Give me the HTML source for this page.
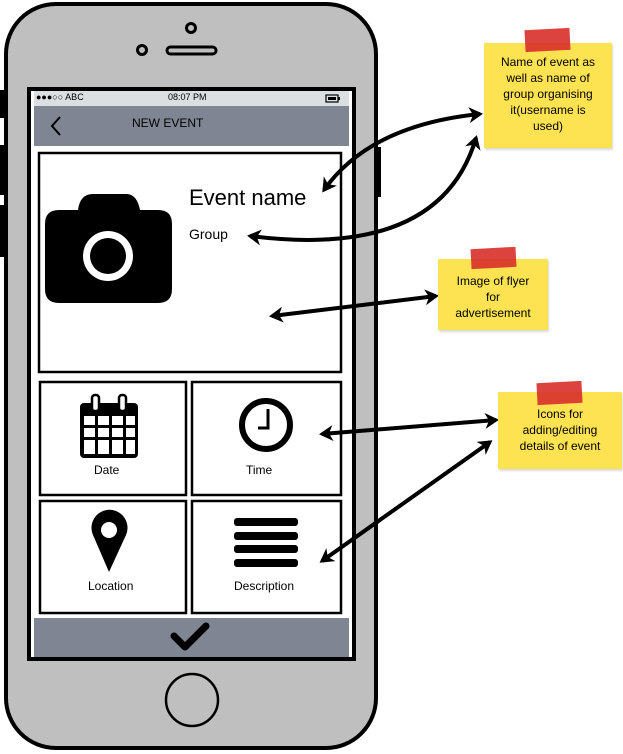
<!DOCTYPE html>
<html><head><style>
html,body{margin:0;padding:0;background:#fff;}
body{width:623px;height:754px;position:relative;overflow:hidden;font-family:"Liberation Sans",sans-serif;}
.t{position:absolute;font-family:"Liberation Sans",sans-serif;color:#000;}
.note{position:absolute;background:#fde352;font-size:12px;text-align:center;line-height:16px;box-shadow:1px 2px 2px rgba(0,0,0,0.15);}
.tape{position:absolute;background:#d9332e;opacity:0.92;}
</style></head><body>
<svg width="623" height="754" style="position:absolute;left:0;top:0">
<defs>
<marker id="a2" markerWidth="16" markerHeight="16" refX="11" refY="8" orient="auto-start-reverse" markerUnits="userSpaceOnUse">
<path d="M0,0 L14,8 L0,16 L4,8 Z" fill="#000"/>
</marker>
</defs>
<rect x="0" y="90" width="9" height="28" fill="#000"/>
<rect x="0" y="145" width="9" height="50" fill="#000"/>
<rect x="0" y="205" width="9" height="52" fill="#000"/>
<rect x="372" y="147" width="9" height="50" fill="#000"/>
<rect x="6" y="4" width="370" height="744" rx="50" ry="50" fill="#bfbfbf" stroke="#000" stroke-width="4"/>
<circle cx="191" cy="28" r="4.5" fill="none" stroke="#000" stroke-width="3"/>
<circle cx="142" cy="50" r="4.5" fill="none" stroke="#000" stroke-width="3"/>
<rect x="167" y="47" width="49" height="7" rx="3.5" fill="none" stroke="#000" stroke-width="3"/>
<rect x="29" y="89" width="325" height="570" fill="#fff" stroke="#000" stroke-width="4"/>
<rect x="34" y="91" width="315" height="15" fill="#dbdfe2"/>
<rect x="34" y="106" width="315" height="40" fill="#7f8593"/>
<rect x="34" y="618" width="315" height="39" fill="#7f8593"/>
<path d="M60,117 L52,126 L60,135" fill="none" stroke="#000" stroke-width="2"/>
<rect x="326" y="95" width="12" height="7" fill="none" stroke="#000" stroke-width="1.2"/>
<rect x="328" y="97" width="8" height="3" fill="#000"/>
<rect x="338" y="97" width="2" height="3" fill="#000"/>
<path d="M174,636 L185,647 L206,626" fill="none" stroke="#000" stroke-width="7" stroke-linecap="round" stroke-linejoin="round"/>
<rect x="39" y="153" width="302" height="219" fill="#fff" stroke="#000" stroke-width="2.5"/>
<path d="M78,210 Q80,194 93,194 L126,194 Q137,194 140,210 L158,210 Q172,210 172,224 L172,289 Q172,303 158,303 L59,303 Q45,303 45,289 L45,224 Q45,210 59,210 Z" fill="#000"/>
<circle cx="108" cy="256" r="25" fill="#fff"/>
<circle cx="108" cy="256" r="18" fill="#000"/>
<rect x="40" y="382" width="146" height="113" fill="#fff" stroke="#000" stroke-width="2.5"/>
<rect x="192" y="382" width="149" height="113" fill="#fff" stroke="#000" stroke-width="2.5"/>
<rect x="40" y="501" width="146" height="112" fill="#fff" stroke="#000" stroke-width="2.5"/>
<rect x="192" y="501" width="149" height="112" fill="#fff" stroke="#000" stroke-width="2.5"/>
<rect x="80" y="403" width="58" height="55" rx="4" fill="#000"/>
<g fill="#fff">
<rect x="84" y="416" width="11" height="9"/><rect x="98" y="416" width="11" height="9"/><rect x="112" y="416" width="11" height="9"/><rect x="126" y="416" width="9" height="9"/>
<rect x="84" y="428" width="11" height="9"/><rect x="98" y="428" width="11" height="9"/><rect x="112" y="428" width="11" height="9"/><rect x="126" y="428" width="9" height="9"/>
<rect x="84" y="440" width="11" height="14"/><rect x="98" y="440" width="11" height="14"/><rect x="112" y="440" width="11" height="14"/><rect x="126" y="440" width="9" height="14"/>
</g>
<rect x="92" y="395" width="7" height="16" rx="3" fill="#fff" stroke="#000" stroke-width="2.5"/>
<rect x="119" y="395" width="7" height="16" rx="3" fill="#fff" stroke="#000" stroke-width="2.5"/>
<circle cx="266" cy="425" r="24" fill="none" stroke="#000" stroke-width="6"/>
<path d="M268,409 L268,428 L258,428" fill="none" stroke="#000" stroke-width="3"/>
<path d="M109,572 L93,535 A18,18 0 1 1 126,535 Z" fill="#000"/>
<circle cx="109" cy="530" r="8" fill="#fff"/>
<g fill="#000">
<rect x="234" y="518" width="64" height="8" rx="3"/>
<rect x="234" y="532" width="64" height="8" rx="3"/>
<rect x="234" y="545" width="64" height="8" rx="3"/>
<rect x="234" y="559" width="64" height="8" rx="3"/>
</g>
<circle cx="192" cy="700" r="26" fill="none" stroke="#000" stroke-width="2.5"/>
<g fill="none" stroke="#000" stroke-width="4">
<path d="M324,190 Q370,125 480,114" marker-start="url(#a2)" marker-end="url(#a2)"/>
<path d="M250,236 Q440,260 476,138" marker-start="url(#a2)" marker-end="url(#a2)"/>
<path d="M272,316 L436,296" marker-start="url(#a2)" marker-end="url(#a2)"/>
<path d="M322,434 L496,420" marker-start="url(#a2)" marker-end="url(#a2)"/>
<path d="M322,561 L490,442" marker-start="url(#a2)" marker-end="url(#a2)"/>
</g>
</svg>
<div class="t" style="left:36px;top:92px;font-size:9px;">●●●○○ ABC</div>
<div class="t" style="left:168px;top:92px;font-size:9px;">08:07 PM</div>
<div class="t" style="left:132px;top:116px;font-size:12px;">NEW EVENT</div>
<div class="t" style="left:189px;top:185px;font-size:22px;">Event name</div>
<div class="t" style="left:189px;top:226px;font-size:14px;">Group</div>
<div class="t" style="left:94px;top:463px;font-size:12px;">Date</div>
<div class="t" style="left:246px;top:463px;font-size:12px;">Time</div>
<div class="t" style="left:88px;top:579px;font-size:12px;">Location</div>
<div class="t" style="left:234px;top:579px;font-size:12px;">Description</div>
<div class="note" style="left:484px;top:43px;width:128px;height:105px;padding-top:11px;box-sizing:border-box;">Name of event as<br>well as name of<br>group organising<br>it(username is<br>used)</div>
<div class="tape" style="left:525px;top:29px;width:45px;height:22px;transform:rotate(-3deg);"></div>
<div class="note" style="left:438px;top:259px;width:110px;height:71px;padding-top:14px;box-sizing:border-box;">Image of flyer<br>for<br>advertisement</div>
<div class="tape" style="left:471px;top:248px;width:45px;height:20px;transform:rotate(-3deg);"></div>
<div class="note" style="left:498px;top:392px;width:124px;height:77px;padding-top:14px;box-sizing:border-box;">Icons for<br>adding/editing<br>details of event</div>
<div class="tape" style="left:537px;top:382px;width:45px;height:22px;transform:rotate(-3deg);"></div>
</body></html>
